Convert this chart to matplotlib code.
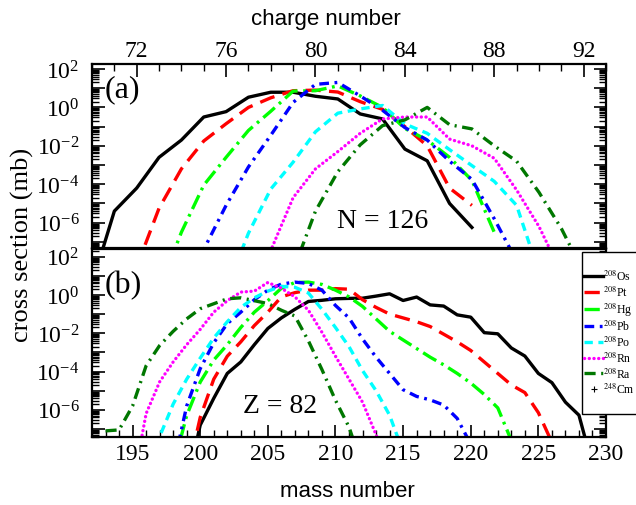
import numpy as np
import matplotlib
matplotlib.use('Agg')
import matplotlib.pyplot as plt
from matplotlib.ticker import LogLocator, NullFormatter, FuncFormatter, MultipleLocator
from matplotlib.lines import Line2D
from matplotlib.patches import Rectangle

plt.rcParams['font.family'] = ['Liberation Serif', 'DejaVu Serif']
plt.rcParams['mathtext.fontset'] = 'stix'
plt.rcParams['lines.scale_dashes'] = False

# (a) N = 126 isotopes vs charge number, log10(cross section / mb)
z_os = np.arange(70, 88)
a_os_log = [-9.2, -5.4, -4.2, -2.6, -1.7, -0.5, -0.22, 0.53, 0.79, 0.79, 0.58, 0.44,
            -0.34, -0.6, -2.17, -2.78, -5.0, -6.25]
z_pt = np.arange(72, 88)
a_pt_log = [-8.3, -5.25, -3.2, -1.75, -0.85, 0.0, 0.5, 0.87, 0.9, 0.8, 0.3, -0.1,
            -1.0, -2.0, -4.2, -5.1]
z_hg = np.arange(73, 89)
a_hg_log = [-9.5, -6.5, -4.05, -2.6, -1.2, -0.2, 0.85, 0.87, 1.12, 0.6, 0.0, -1.1,
            -1.7, -2.6, -3.8, -6.5]
z_pb = np.arange(74, 90)
a_pb_log = [-10.0, -7.4, -5.1, -3.1, -1.45, 0.26, 1.2, 1.3, 0.6, -0.15, -1.05, -1.7,
            -2.8, -3.75, -5.8, -8.0]
z_po = np.arange(76, 91)
a_po_log = [-9.5, -6.55, -4.25, -2.85, -1.27, -0.3, -0.08, 0.1, -0.86, -1.35, -2.2,
            -3.03, -3.85, -5.1, -8.6]
z_rn = np.arange(77, 92)
a_rn_log = [-11.0, -7.45, -4.7, -3.2, -2.3, -1.35, -0.6, -0.5, -0.5, -1.65, -2.0,
            -2.65, -4.3, -6.2, -8.6]
z_ra = np.arange(78, 93)
a_ra_log = [-11.0, -8.5, -5.4, -3.35, -1.95, -0.95, -0.65, 0.0, -0.9, -1.12, -2.0,
            -2.8, -4.42, -6.3, -8.6]

# (b) Z = 82 isotopes vs mass number
m_os = np.arange(199, 230)
b_os_log = [-10.0, -6.8, -5.4, -4.1, -3.5, -2.6, -1.75, -1.2, -0.75, -0.34, -0.28, -0.2,
            -0.18, -0.17, -0.06, 0.06, -0.29, -0.11, -0.52, -0.58, -1.04, -1.16, -1.97,
            -2.03, -2.77, -3.19, -4.1, -4.58, -5.6, -6.28, -8.9]
m_pt = np.arange(199, 227)
b_pt_log = [-9.5, -6.4, -4.4, -3.2, -2.45, -1.6, -0.9, -0.1, 0.12, 0.25, 0.25, 0.33,
            0.3, -0.25, -0.65, -1.0, -1.2, -1.4, -1.65, -2.05, -2.45, -2.9, -3.5, -4.1,
            -4.7, -5.1, -6.15, -7.7]
m_hg = np.arange(198, 224)
b_hg_log = [-9.0, -6.3, -4.55, -3.4, -2.6, -1.7, -0.9, -0.3, 0.35, 0.65, 0.67, 0.55,
            0.25, -0.1, -0.6, -1.25, -1.9, -2.35, -2.8, -3.25, -3.65, -4.1, -4.6, -5.2,
            -5.9, -7.6]
m_pb = np.arange(198, 221)
b_pb_log = [-9.0, -5.8, -3.85, -2.5, -1.5, -0.9, -0.25, 0.25, 0.57, 0.67, 0.6, 0.25,
            -0.55, -1.2, -2.3, -3.25, -4.1, -4.95, -5.3, -5.48, -5.75, -6.45, -7.8]
m_po = np.arange(196, 216)
b_po_log = [-10.0, -7.4, -5.7, -4.4, -3.3, -2.25, -1.4, -0.65, -0.15, 0.2, 0.45, 0.4,
            0.1, -0.75, -1.7, -2.7, -3.95, -5.0, -6.28, -8.2]
m_rn = np.arange(195, 215)
b_rn_log = [-10.0, -6.2, -4.54, -3.5, -2.6, -1.8, -0.9, -0.3, 0.15, 0.2, 0.65, 0.35,
            -0.1, -0.8, -1.95, -3.2, -4.4, -5.6, -7.3, -9.5]
m_ra = np.arange(193, 213)
b_ra_log = [-7.1, -7.05, -5.8, -3.7, -2.64, -1.9, -1.25, -0.72, -0.46, -0.2, -0.15,
            -0.3, -0.45, -0.8, -1.1, -2.4, -3.9, -5.5, -6.9, -9.0]

labels = [r'$^{208}$Os', r'$^{208}$Pt', r'$^{208}$Hg', r'$^{208}$Pb',
          r'$^{208}$Po', r'$^{208}$Rn', r'$^{208}$Ra']
colors = ['black', 'red', '#00ff00', 'blue', 'cyan', 'magenta', '#007700']
dashes = [(None, None), (0, (11, 6)), (0, (11, 4, 2, 4)), (0, (7, 4, 2, 4)),
          (0, (6, 4)), (0, (0.1, 3.3)), (0, (8, 4, 1.5, 4))]


def style_y(ax):
    ax.set_yscale('log')
    ax.yaxis.set_major_locator(LogLocator(base=10, numticks=30))
    ax.yaxis.set_minor_locator(LogLocator(base=10, subs=np.arange(2, 10), numticks=100))
    ax.yaxis.set_minor_formatter(NullFormatter())

    def fmt(v, pos):
        e = int(round(np.log10(v)))
        if e % 2:
            return ''
        return r'$\mathregular{10^{%d}}$' % e
    ax.yaxis.set_major_formatter(FuncFormatter(fmt))
    ax.tick_params(axis='y', which='both', direction='in', left=True, right=True,
                   labelsize=17, pad=9)
    ax.tick_params(axis='y', which='major', length=9, width=1.2)
    ax.tick_params(axis='y', which='minor', length=5, width=1.0)
    for s in ax.spines.values():
        s.set_linewidth(1.6)


def draw(ax, xs, ys):
    for x, y, c, d, lab in zip(xs, ys, colors, dashes, labels):
        ln, = ax.plot(x, 10.0 ** np.array(y), color=c, lw=2.4, label=lab)
        if d[1] is not None:
            ln.set_linestyle(d)
        if c == 'magenta':
            ln.set_dash_capstyle('round')


fig = plt.figure(figsize=(6.36, 5.06), dpi=100)
W, H = 636.0, 506.0
ax1 = fig.add_axes([92 / W, 1 - 249 / H, 514 / W, 184 / H])
ax2 = fig.add_axes([92 / W, 1 - 438 / H, 514 / W, 188 / H])

draw(ax1, [z_os, z_pt, z_hg, z_pb, z_po, z_rn, z_ra],
     [a_os_log, a_pt_log, a_hg_log, a_pb_log, a_po_log, a_rn_log, a_ra_log])
draw(ax2, [m_os, m_pt, m_hg, m_pb, m_po, m_rn, m_ra],
     [b_os_log, b_pt_log, b_hg_log, b_pb_log, b_po_log, b_rn_log, b_ra_log])

# top panel
ax1.set_xlim(70, 93)
ax1.set_ylim(10 ** -7.32, 10 ** 2.26)
style_y(ax1)
ax1.xaxis.set_major_locator(plt.FixedLocator([72, 76, 80, 84, 88, 92]))
ax1.xaxis.set_minor_locator(MultipleLocator(1))
ax1.tick_params(axis='x', which='both', direction='in', top=True, bottom=False,
                labeltop=True, labelbottom=False, labelsize=17, pad=2)
ax1.tick_params(axis='x', which='major', length=9, width=1.2)
ax1.tick_params(axis='x', which='minor', length=5, width=1.0)
ax1.text(0.025, 0.865, '(a)', transform=ax1.transAxes, fontsize=23, va='center')
ax1.text(0.476, 0.147, 'N = 126', transform=ax1.transAxes, fontsize=20, va='center')

# bottom panel
ax2.set_xlim(192, 230)
ax2.set_ylim(10 ** -7.42, 10 ** 2.4)
style_y(ax2)
ax2.xaxis.set_major_locator(MultipleLocator(5))
ax2.xaxis.set_minor_locator(MultipleLocator(1))
ax2.tick_params(axis='x', which='both', direction='in', top=False, bottom=True,
                labelsize=17, pad=4)
ax2.tick_params(axis='x', which='major', length=9, width=1.2)
ax2.tick_params(axis='x', which='minor', length=5, width=1.0)
ax2.text(0.025, 0.81, '(b)', transform=ax2.transAxes, fontsize=23, va='center')
ax2.text(0.294, 0.165, 'Z = 82', transform=ax2.transAxes, fontsize=20, va='center')

fig.text(326 / W, 1 - 20 / H, 'charge number', family='Liberation Sans', fontsize=16,
         ha='center', va='center')
fig.text(347 / W, 1 - 492 / H, 'mass number', family='Liberation Sans', fontsize=16,
         ha='center', va='center')
fig.text(22 / W, 1 - 245 / H, 'cross section (mb)', fontsize=19, rotation=90,
         ha='center', va='center')

# legend box sits over the right edge of panel (b)
box = Rectangle((582 / W, 1 - 415 / H), 70 / W, 162 / H, transform=fig.transFigure,
                facecolor='white', edgecolor='black', linewidth=1.0, zorder=4)
fig.patches.append(box)

handles, labs = ax2.get_legend_handles_labels()
handles.append(Line2D([], [], color='black', marker='+', markersize=5,
                      markeredgewidth=0.8, linestyle='None'))
labs.append(r'$^{248}$Cm')
leg = fig.legend(handles, labs, loc='upper left', bbox_to_anchor=(584 / W, 1 - 270 / H),
                 bbox_transform=fig.transFigure, fontsize=8.5, handlelength=1.65,
                 handletextpad=0.0, borderpad=0, labelspacing=0.12, borderaxespad=0,
                 frameon=False)
leg.set_zorder(5)

fig.savefig('out.png', dpi=100)
